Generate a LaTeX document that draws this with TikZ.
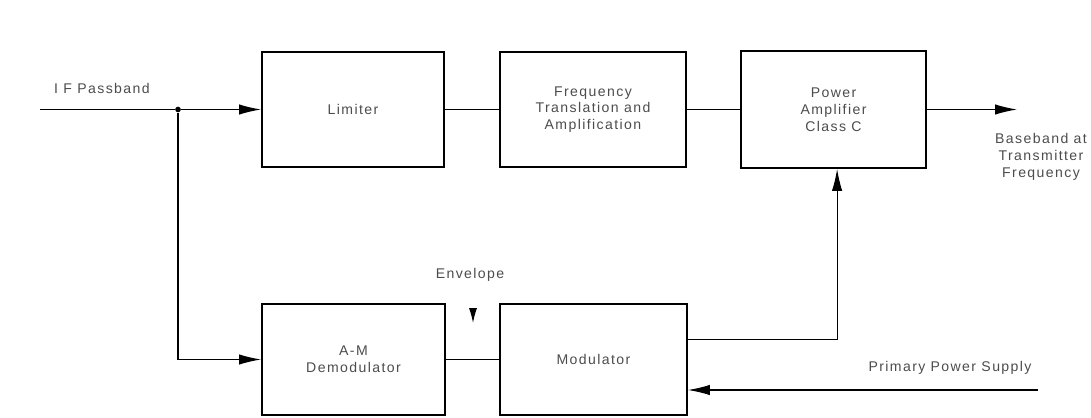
\documentclass[tikz,border=0pt]{standalone}
\usepackage{fontspec}
\setmainfont{Liberation Sans}[LetterSpace=10]
\usetikzlibrary{arrows.meta}

\tikzset{
  block/.style={draw, line width=1.3pt, minimum width=4.6cm, minimum height=2.875cm, align=center, text=black!70},
  lbl/.style={align=center, text=black!70, inner sep=0pt},
  sig/.style={line width=0.8pt},
  arr/.style={sig, -{Latex[length=0.55cm,width=0.26cm]}},
  dot/.style={circle, fill, inner sep=0pt, minimum size=4pt}
}

\begin{document}
\begin{tikzpicture}[x=0.025cm, y=-0.025cm, font=\fontsize{10}{12}\selectfont]
  \useasboundingbox (0,0) rectangle (1091,418);

  % upper row
  \node[block, minimum width=4.55cm] (lim) at (353,109.5) {Limiter};
  \node[block, minimum width=4.65cm] (frq) at (593,109.5) {Frequency\\Translation and\\Amplification};
  \node[block, minimum width=4.625cm, minimum height=2.925cm] (pwr) at (833.5,109.5) {Power\\Amplifier\\Class C};

  % lower row
  \node[block, minimum width=4.575cm, minimum height=2.775cm] (dem) at (353.5,359.5) {A-M\\Demodulator};
  \node[block, minimum width=4.675cm, minimum height=2.775cm] (mod) at (593.5,359.5) {Modulator};

  % labels
  \node[lbl] (ifl) at (102,88) {I F Passband};
  \node[lbl] (bbl) at (1041,157) {Baseband at\\Transmitter\\Frequency};
  \node[lbl] (env) at (470,275) {Envelope};
  \node[lbl] (psl) at (950,368) {Primary Power Supply};

  \coordinate (in) at (40,109.5);
  \node[dot] (jn) at (178,109.5) {};
  \coordinate (out) at (1017,109.5);
  \coordinate (ps) at (1038,390);
  \coordinate (envtop) at (473,308);
  \coordinate (envtip) at (473,323);

  % signal path
  \draw[sig] (in) -- (jn);
  \draw[arr] (jn) -- (lim);
  \draw[sig] (lim) -- (frq);
  \draw[sig] (frq) -- (pwr);
  \draw[arr] (pwr) -- (out);
  \draw[arr] (jn) |- (dem);
  \draw[sig] (dem) -- (mod);
  \draw[arr] ([yshift=0.49cm]mod.east) -| ([xshift=0.09cm]pwr.south);
  \draw[arr] (ps) -- (ps -| mod.east);
  \draw[sig, -{Latex[length=0.37cm,width=0.2cm]}] (envtop) -- (envtip);
\end{tikzpicture}
\end{document}
